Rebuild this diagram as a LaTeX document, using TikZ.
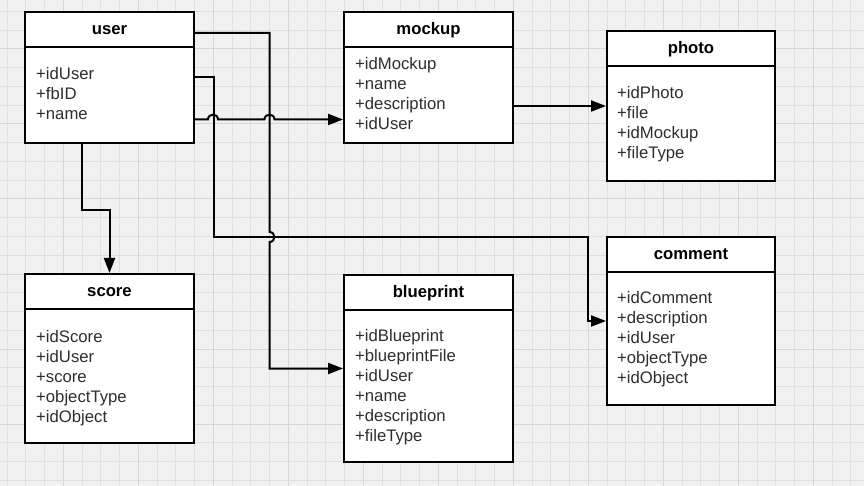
\documentclass[tikz,border=0pt]{standalone}
\usepackage{fontspec}
\setmainfont{Liberation Sans}
\usetikzlibrary{arrows.meta}
\definecolor{paper}{HTML}{F1F1F1}
\definecolor{gridminor}{HTML}{E0E0E0}
\definecolor{gridmajor}{HTML}{D6D6D6}
\definecolor{fieldink}{HTML}{2E2E2E}
\begin{document}
\begin{tikzpicture}[x=1pt,y=-1pt,
  classbox/.style={draw=black, line width=2pt, fill=white, rectangle, inner sep=0pt},
  titletext/.style={anchor=base, inner sep=0pt, font=\fontsize{16.7}{20}\selectfont\bfseries},
  fieldtext/.style={anchor=base west, inner sep=0pt, text=fieldink, font=\fontsize{16.7}{20}\selectfont},
  divider/.style={line width=2pt},
  wire/.style={line width=2pt},
  conn/.style={wire, -{Triangle[length=15pt,width=11pt]}}]

% paper and grid
\fill[paper] (0,0) rectangle (864,486);
\useasboundingbox (0,0) rectangle (864,486);
\foreach \k in {0,...,45}{
  \pgfmathtruncatemacro\m{mod(\k,4)}
  \ifnum\m=3 \def\gc{gridmajor}\else\def\gc{gridminor}\fi
  \draw[\gc, line width=1pt] (7+18.75*\k,0) -- (7+18.75*\k,486);
}
\foreach \k in {0,...,25}{
  \pgfmathtruncatemacro\m{mod(\k,4)}
  \ifnum\m=2 \def\gc{gridmajor}\else\def\gc{gridminor}\fi
  \draw[\gc, line width=1pt] (0,11.5+18.75*\k) -- (864,11.5+18.75*\k);
}

% class boxes
\node[classbox, minimum width=169pt, minimum height=131pt] (user) at (109.5,77.5) {};
\node[classbox, minimum width=169pt, minimum height=131pt] (mockup) at (428.5,77.5) {};
\node[classbox, minimum width=168pt, minimum height=150pt] (photo) at (691,106) {};
\node[classbox, minimum width=168pt, minimum height=168pt] (comment) at (691,321) {};
\node[classbox, minimum width=169pt, minimum height=169pt] (score) at (109.5,358.5) {};
\node[classbox, minimum width=169pt, minimum height=187pt] (blueprint) at (428.5,368.5) {};

% header dividers and titles
\foreach \b in {user,mockup,photo,comment,score,blueprint}{
  \draw[divider] ([yshift=-36pt]\b.north west) -- ([yshift=-36pt]\b.north east);
  \node[titletext] (\b-title) at ([yshift=-23.5pt]\b.north) {\b};
}

% attributes
\foreach \f [count=\i from 0] in {+idUser,+fbID,+name}
  \node[fieldtext] (user-f\i) at ([xshift=12pt,yshift=-69pt-20pt*\i]user.north west) {\f};
\foreach \f [count=\i from 0] in {+idMockup,+name,+description,+idUser}
  \node[fieldtext] (mockup-f\i) at ([xshift=12pt,yshift=-59pt-20pt*\i]mockup.north west) {\f};
\foreach \f [count=\i from 0] in {+idPhoto,+file,+idMockup,+fileType}
  \node[fieldtext] (photo-f\i) at ([xshift=11pt,yshift=-69pt-20pt*\i]photo.north west) {\f};
\foreach \f [count=\i from 0] in {+idComment,+description,+idUser,+objectType,+idObject}
  \node[fieldtext] (comment-f\i) at ([xshift=11pt,yshift=-67pt-20pt*\i]comment.north west) {\f};
\foreach \f [count=\i from 0] in {+idScore,+idUser,+score,+objectType,+idObject}
  \node[fieldtext] (score-f\i) at ([xshift=12pt,yshift=-69pt-20pt*\i]score.north west) {\f};
\foreach \f [count=\i from 0] in {+idBlueprint,+blueprintFile,+idUser,+name,+description,+fileType}
  \node[fieldtext] (blueprint-f\i) at ([xshift=12pt,yshift=-67pt-20pt*\i]blueprint.north west) {\f};

% connector ports on the user box
\coordinate (uTop) at ([yshift=44.5pt]user.east);
\coordinate (uOut) at ([yshift=-42pt]user.east);
\coordinate (uBot) at ([xshift=-27.5pt]user.south);

% user -> comment
\draw[conn] (user.east) -- ++(19,0) |- (588,237) |- (comment.west);
% user -> blueprint, hopping over the comment wire
\draw[conn] (uTop) -- (269.5,33) -- (269.5,232)
  .. controls (276,232) and (276,242) .. (269.5,242) |- (blueprint.west);
% user -> mockup, hopping over both verticals
\draw[conn] (uOut) -- (208,119.5)
  .. controls (208,113) and (218,113) .. (218,119.5) -- (264.5,119.5)
  .. controls (264.5,113) and (274.5,113) .. (274.5,119.5) -- (mockup.west |- uOut);
% user -> score
\draw[conn] (uBot) -- ++(0,66) -| (score.north);
% mockup -> photo
\draw[conn] (mockup.east |- photo.west) -- (photo.west);
\end{tikzpicture}
\end{document}
